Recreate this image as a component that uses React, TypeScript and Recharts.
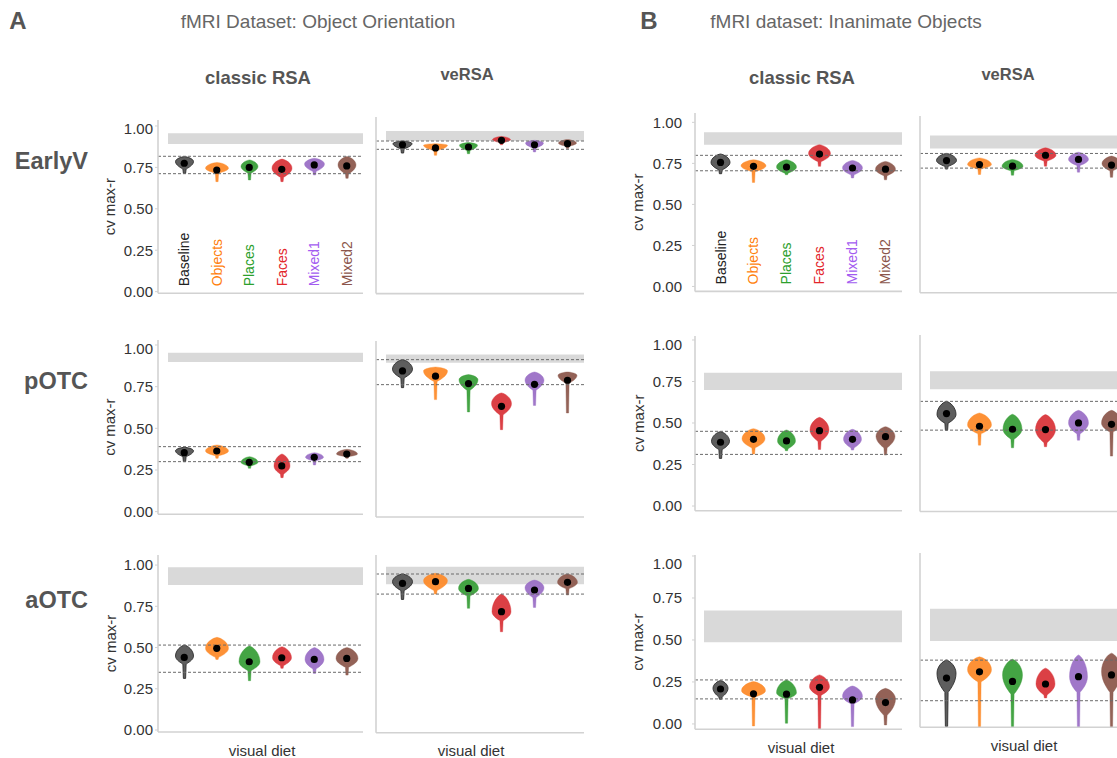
import React from 'react';
import { ComposedChart, Bar, Line, XAxis, YAxis, ReferenceArea, ReferenceLine } from 'recharts';

const diets = ['Baseline', 'Objects', 'Places', 'Faces', 'Mixed1', 'Mixed2'];
const dietFill = ['#555555', '#fd8b2b', '#3a9f3a', '#d9363b', '#9b70c6', '#8d5a4e'];
const dietLabelColor = ['#222222', '#ff7f0e', '#2ca02c', '#e3262b', '#a35cf0', '#8c564b'];
const yTicks = [0, 0.25, 0.5, 0.75, 1];

// violin tuples: [low, neck, mode, high, mean, relative width]
const A_EarlyV_classic = [
  [0.714, 0.74, 0.785, 0.815, 0.775, 0.72],
  [0.664, 0.715, 0.745, 0.78, 0.734, 0.92],
  [0.674, 0.715, 0.755, 0.795, 0.75, 0.68],
  [0.664, 0.69, 0.745, 0.8, 0.738, 0.8],
  [0.704, 0.725, 0.77, 0.805, 0.765, 0.8],
  [0.684, 0.71, 0.765, 0.815, 0.759, 0.72],
];
const A_EarlyV_veRSA = [
  [0.796, 0.82, 0.849, 0.864, 0.843, 0.76],
  [0.783, 0.81, 0.84, 0.849, 0.825, 0.96],
  [0.792, 0.81, 0.84, 0.855, 0.83, 0.72],
  [0.843, 0.855, 0.872, 0.89, 0.868, 0.72],
  [0.802, 0.825, 0.852, 0.868, 0.843, 0.72],
  [0.821, 0.835, 0.852, 0.872, 0.849, 0.72],
];
const A_pOTC_classic = [
  [0.3, 0.33, 0.365, 0.386, 0.354, 0.72],
  [0.32, 0.335, 0.364, 0.4, 0.364, 0.92],
  [0.26, 0.275, 0.296, 0.33, 0.296, 0.68],
  [0.204, 0.225, 0.274, 0.346, 0.274, 0.64],
  [0.28, 0.305, 0.326, 0.354, 0.326, 0.72],
  [0.32, 0.33, 0.346, 0.374, 0.346, 0.84],
];
const A_pOTC_veRSA = [
  [0.735, 0.79, 0.84, 0.894, 0.83, 0.8],
  [0.667, 0.77, 0.83, 0.852, 0.8, 0.96],
  [0.597, 0.72, 0.78, 0.809, 0.758, 0.76],
  [0.496, 0.58, 0.644, 0.705, 0.629, 0.8],
  [0.634, 0.72, 0.777, 0.824, 0.754, 0.76],
  [0.591, 0.76, 0.805, 0.824, 0.777, 0.76],
];
const A_aOTC_classic = [
  [0.313, 0.4, 0.448, 0.515, 0.44, 0.72],
  [0.428, 0.44, 0.495, 0.562, 0.495, 0.92],
  [0.299, 0.36, 0.414, 0.509, 0.414, 0.84],
  [0.374, 0.39, 0.438, 0.505, 0.438, 0.76],
  [0.343, 0.37, 0.428, 0.5, 0.428, 0.76],
  [0.333, 0.38, 0.434, 0.5, 0.434, 0.88],
];
const A_aOTC_veRSA = [
  [0.75, 0.8, 0.85, 0.893, 0.84, 0.8],
  [0.78, 0.8, 0.855, 0.897, 0.85, 0.96],
  [0.7, 0.77, 0.812, 0.863, 0.812, 0.8],
  [0.568, 0.63, 0.681, 0.78, 0.681, 0.76],
  [0.705, 0.76, 0.815, 0.859, 0.803, 0.76],
  [0.775, 0.81, 0.846, 0.893, 0.846, 0.8],
];
const B_EarlyV_classic = [
  [0.687, 0.71, 0.756, 0.807, 0.756, 0.76],
  [0.634, 0.7, 0.735, 0.772, 0.732, 1.0],
  [0.681, 0.69, 0.728, 0.772, 0.728, 0.8],
  [0.732, 0.76, 0.81, 0.864, 0.807, 0.88],
  [0.661, 0.68, 0.722, 0.768, 0.722, 0.8],
  [0.65, 0.675, 0.715, 0.762, 0.715, 0.8],
];
const B_EarlyV_veRSA = [
  [0.7, 0.715, 0.748, 0.788, 0.748, 0.8],
  [0.669, 0.7, 0.725, 0.763, 0.725, 0.96],
  [0.665, 0.69, 0.716, 0.754, 0.716, 0.84],
  [0.716, 0.745, 0.778, 0.82, 0.778, 0.84],
  [0.682, 0.72, 0.754, 0.795, 0.754, 0.8],
  [0.653, 0.69, 0.73, 0.773, 0.722, 0.76],
];
const B_pOTC_classic = [
  [0.287, 0.34, 0.39, 0.448, 0.384, 0.72],
  [0.313, 0.35, 0.405, 0.466, 0.402, 0.92],
  [0.333, 0.345, 0.392, 0.458, 0.392, 0.72],
  [0.341, 0.39, 0.458, 0.534, 0.454, 0.76],
  [0.337, 0.35, 0.402, 0.462, 0.402, 0.72],
  [0.307, 0.35, 0.42, 0.478, 0.418, 0.76],
];
const B_pOTC_veRSA = [
  [0.461, 0.5, 0.55, 0.624, 0.555, 0.76],
  [0.376, 0.44, 0.49, 0.558, 0.483, 0.96],
  [0.361, 0.41, 0.466, 0.551, 0.466, 0.76],
  [0.367, 0.39, 0.464, 0.549, 0.464, 0.8],
  [0.404, 0.44, 0.502, 0.573, 0.502, 0.8],
  [0.314, 0.45, 0.5, 0.573, 0.494, 0.8],
];
const B_aOTC_classic = [
  [0.147, 0.16, 0.212, 0.258, 0.208, 0.6],
  [-0.012, 0.16, 0.198, 0.252, 0.179, 0.96],
  [0.004, 0.15, 0.185, 0.262, 0.177, 0.8],
  [-0.03, 0.17, 0.222, 0.292, 0.218, 0.8],
  [-0.016, 0.12, 0.165, 0.226, 0.143, 0.8],
  [-0.006, 0.05, 0.148, 0.212, 0.127, 0.8],
];
const B_aOTC_veRSA = [
  [0.004, 0.2, 0.309, 0.385, 0.282, 0.76],
  [0.0, 0.26, 0.33, 0.404, 0.318, 0.96],
  [0.0, 0.19, 0.3, 0.39, 0.263, 0.8],
  [0.168, 0.185, 0.248, 0.339, 0.248, 0.76],
  [0.0, 0.2, 0.29, 0.415, 0.29, 0.72],
  [0.0, 0.2, 0.32, 0.425, 0.3, 0.8],
];

// noise ceiling [low, high] per row (EarlyV, pOTC, aOTC)
const A_ceiling_classic = [[0.891, 0.956], [0.898, 0.954], [0.879, 0.986]];
const A_ceiling_veRSA = [[0.864, 0.921], [0.877, 0.924], [0.835, 0.934]];
const B_ceiling_classic = [[0.864, 0.939], [0.699, 0.803], [0.486, 0.675]];
const B_ceiling_veRSA = [[0.816, 0.89], [0.692, 0.795], [0.495, 0.68]];
// dashed reference bounds per row
const A_bounds_classic = [[0.712, 0.817], [0.3, 0.39], [0.35, 0.515]];
const A_bounds_veRSA = [[0.817, 0.864], [0.752, 0.894], [0.78, 0.893]];
const B_bounds_classic = [[0.705, 0.799], [0.311, 0.45], [0.149, 0.262]];
const B_bounds_veRSA = [[0.705, 0.788], [0.461, 0.624], [0.152, 0.385]];

const FONT = "'Liberation Sans', Arial, Helvetica, sans-serif";
const AXIS = '#d2d2d2';
const MAXW = 25;
const YW = 70;
const XH = 30;

function violinPath(cx: number, yHi: number, yMode: number, yNeck: number, yLo: number, hw: number, tw: number) {
  const up = yMode - yHi;
  const dn = yNeck - yMode;
  const f = (n: number) => n.toFixed(2);
  return [
    `M ${f(cx)} ${f(yHi)}`,
    `C ${f(cx + hw * 0.35)} ${f(yHi + up * 0.05)} ${f(cx + hw)} ${f(yMode - up * 0.55)} ${f(cx + hw)} ${f(yMode)}`,
    `C ${f(cx + hw)} ${f(yMode + dn * 0.5)} ${f(cx + tw + (hw - tw) * 0.15)} ${f(yNeck - dn * 0.1)} ${f(cx + tw)} ${f(yNeck)}`,
    `L ${f(cx + tw * 0.7)} ${f(yLo)}`,
    `L ${f(cx - tw * 0.7)} ${f(yLo)}`,
    `L ${f(cx - tw)} ${f(yNeck)}`,
    `C ${f(cx - tw - (hw - tw) * 0.15)} ${f(yNeck - dn * 0.1)} ${f(cx - hw)} ${f(yMode + dn * 0.5)} ${f(cx - hw)} ${f(yMode)}`,
    `C ${f(cx - hw)} ${f(yMode - up * 0.55)} ${f(cx - hw * 0.35)} ${f(yHi + up * 0.05)} ${f(cx)} ${f(yHi)}`,
    'Z',
  ].join(' ');
}

const ViolinShape = (props: any) => {
  const { x, y, width, height, payload } = props;
  if (x == null || y == null || !payload) return <g />;
  const top = Math.min(y, y + height);
  const bot = Math.max(y, y + height);
  const { lo, hi, neck, mode, rw, idx } = payload;
  const v2p = (v: number) => bot - ((v - lo) / (hi - lo)) * (bot - top);
  const cx = x + width / 2;
  const hw = (rw * MAXW) / 2;
  const d = violinPath(cx, top, v2p(mode), v2p(neck), bot, hw, 1.6);
  const fill = dietFill[idx];
  return (
    <path
      d={d}
      fill={fill}
      fillOpacity={0.95}
      stroke={idx === 0 ? '#2e2e2e' : fill}
      strokeWidth={idx === 0 ? 0.9 : 0.4}
    />
  );
};

const CatTick = (props: any) => {
  const { x, y, payload } = props;
  const i = diets.indexOf(payload.value);
  const yy = y - 7;
  return (
    <text
      x={x}
      y={yy}
      transform={`rotate(-90 ${x} ${yy})`}
      textAnchor="start"
      dominantBaseline="central"
      fontSize={14}
      fontFamily={FONT}
      fill={dietLabelColor[i]}
    >
      {payload.value}
    </text>
  );
};

type SubProps = {
  L: number; W: number; pad: number; top: number; bottom: number; domain: [number, number];
  violins: number[][]; ceiling: number[]; bounds: number[];
  yLabels?: boolean; yLabelDx?: number; tickMargin?: number; cats?: boolean; xLabelX?: number;
};

function Subplot(p: SubProps) {
  const plotH = p.bottom - p.top;
  const H = plotH + XH;
  const width = YW + p.W;
  const data = p.violins.map((v, i) => ({
    diet: diets[i], idx: i, range: [v[0], v[3]], lo: v[0], neck: v[1], mode: v[2], hi: v[3], mean: v[4], rw: v[5],
  }));
  const yLabel = p.yLabels
    ? () => (
        <text
          x={YW - (p.yLabelDx || 48)}
          y={plotH / 2}
          transform={`rotate(-90 ${YW - (p.yLabelDx || 48)} ${plotH / 2})`}
          textAnchor="middle"
          dominantBaseline="central"
          fontSize={15}
          fontFamily={FONT}
          fill="#333"
        >
          cv max-r
        </text>
      )
    : undefined;
  const xLabel = p.xLabelX !== undefined
    ? () => (
        <text
          x={p.xLabelX! - (p.L - YW)}
          y={plotH + 18}
          textAnchor="middle"
          dominantBaseline="central"
          fontSize={15}
          fontFamily={FONT}
          fill="#333"
        >
          visual diet
        </text>
      )
    : undefined;
  return (
    <div style={{ position: 'absolute', left: p.L - YW, top: p.top, width, height: H }}>
      <ComposedChart width={width} height={H} data={data} margin={{ top: 0, right: 0, bottom: 0, left: 0 }}>
        <XAxis
          dataKey="diet"
          type="category"
          height={XH}
          padding={{ left: p.pad, right: 0 }}
          axisLine={{ stroke: AXIS, strokeWidth: 1.6 }}
          tickLine={false}
          tickSize={0}
          tickMargin={0}
          interval={0}
          tick={p.cats ? CatTick : false}
          label={xLabel}
        />
        <YAxis
          type="number"
          domain={p.domain}
          allowDataOverflow
          ticks={yTicks}
          width={YW}
          axisLine={{ stroke: AXIS, strokeWidth: 1.6 }}
          tickLine={{ stroke: AXIS }}
          tickSize={3}
          tickMargin={p.tickMargin ?? 2}
          tick={p.yLabels ? { fontSize: 15, fill: '#333', fontFamily: FONT } : false}
          tickFormatter={(v: number) => v.toFixed(2)}
          label={yLabel}
        />
        <ReferenceArea y1={p.ceiling[0]} y2={p.ceiling[1]} fill="#d9d9d9" fillOpacity={1} stroke="none" />
        <ReferenceLine y={p.bounds[0]} stroke="#6a6a6a" strokeDasharray="3 2" strokeWidth={1} />
        <ReferenceLine y={p.bounds[1]} stroke="#6a6a6a" strokeDasharray="3 2" strokeWidth={1} />
        <Bar dataKey="range" barSize={MAXW} shape={ViolinShape} isAnimationActive={false} />
        <Line
          dataKey="mean"
          stroke="none"
          dot={{ r: 3.6, fill: '#000', stroke: 'none' }}
          activeDot={false}
          isAnimationActive={false}
        />
      </ComposedChart>
    </div>
  );
}

const T = (props: { x: number; y: number; text: string; size: number; bold?: boolean; color: string; anchor?: 'middle' | 'end' }) => {
  const tx = props.anchor === 'end' ? '-100%' : '-50%';
  return (
    <div
      style={{
        position: 'absolute', left: props.x, top: props.y, transform: `translate(${tx}, -50%)`,
        fontSize: props.size, fontWeight: props.bold ? 700 : 400, color: props.color, whiteSpace: 'nowrap',
        lineHeight: 1, fontFamily: FONT,
      }}
    >
      {props.text}
    </div>
  );
};

export default function App() {
  const Ac = { L: 158, W: 205, pad: 10 };
  const Av = { L: 376, W: 208, pad: 10 };
  const Bc = { L: 695, W: 207, pad: 9 };
  const Bv = { L: 920, W: 208, pad: 10 };
  return (
    <div style={{ position: 'absolute', left: 0, top: 0, width: 1117, height: 758, overflow: 'hidden', background: '#fff', fontFamily: FONT }}>
      <T x={18} y={21} text="A" size={24} bold color="#555" />
      <T x={649} y={21} text="B" size={24} bold color="#555" />
      <T x={318} y={21} text="fMRI Dataset: Object Orientation" size={19} color="#666" />
      <T x={846} y={21} text="fMRI dataset: Inanimate Objects" size={19} color="#666" />
      <T x={258} y={78} text="classic RSA" size={18.5} bold color="#555" />
      <T x={467} y={74} text="veRSA" size={16.5} bold color="#555" />
      <T x={802} y={78} text="classic RSA" size={18.5} bold color="#555" />
      <T x={1008} y={74} text="veRSA" size={16.5} bold color="#555" />
      <T x={88} y={162} text="EarlyV" size={23.5} bold color="#555" anchor="end" />
      <T x={88} y={382} text="pOTC" size={23.5} bold color="#555" anchor="end" />
      <T x={88} y={601} text="aOTC" size={23.5} bold color="#555" anchor="end" />

      <Subplot {...Ac} top={120} bottom={293.3} domain={[-0.01, 1.036]} violins={A_EarlyV_classic} ceiling={A_ceiling_classic[0]} bounds={A_bounds_classic[0]} yLabels yLabelDx={48} tickMargin={2} cats />
      <Subplot {...Av} top={116.7} bottom={293.3} domain={[0, 1]} violins={A_EarlyV_veRSA} ceiling={A_ceiling_veRSA[0]} bounds={A_bounds_veRSA[0]} />
      <Subplot {...Ac} top={340} bottom={514.3} domain={[-0.016, 1.03]} violins={A_pOTC_classic} ceiling={A_ceiling_classic[1]} bounds={A_bounds_classic[1]} yLabels yLabelDx={48} tickMargin={2} />
      <Subplot {...Av} top={340.7} bottom={516.7} domain={[0, 1]} violins={A_pOTC_veRSA} ceiling={A_ceiling_veRSA[1]} bounds={A_bounds_veRSA[1]} />
      <Subplot {...Ac} top={555} bottom={732} domain={[-0.012, 1.061]} violins={A_aOTC_classic} ceiling={A_ceiling_classic[2]} bounds={A_bounds_classic[2]} yLabels yLabelDx={48} tickMargin={2} xLabelX={262} />
      <Subplot {...Av} top={555} bottom={732.7} domain={[0, 1]} violins={A_aOTC_veRSA} ceiling={A_ceiling_veRSA[2]} bounds={A_bounds_veRSA[2]} xLabelX={471} />

      <Subplot {...Bc} top={113.3} bottom={291.7} domain={[-0.03, 1.057]} violins={B_EarlyV_classic} ceiling={B_ceiling_classic[0]} bounds={B_bounds_classic[0]} yLabels yLabelDx={57} tickMargin={10} cats />
      <Subplot {...Bv} top={116} bottom={292.7} domain={[0, 1]} violins={B_EarlyV_veRSA} ceiling={B_ceiling_veRSA[0]} bounds={B_bounds_veRSA[0]} />
      <Subplot {...Bc} top={336} bottom={510.7} domain={[-0.028, 1.024]} violins={B_pOTC_classic} ceiling={B_ceiling_classic[1]} bounds={B_bounds_classic[1]} yLabels yLabelDx={57} tickMargin={10} />
      <Subplot {...Bv} top={335} bottom={511.5} domain={[0, 1]} violins={B_pOTC_veRSA} ceiling={B_ceiling_veRSA[1]} bounds={B_bounds_veRSA[1]} />
      <Subplot {...Bc} top={555} bottom={729.3} domain={[-0.032, 1.006]} violins={B_aOTC_classic} ceiling={B_ceiling_classic[2]} bounds={B_bounds_classic[2]} yLabels yLabelDx={57} tickMargin={10} xLabelX={801} />
      <Subplot {...Bv} top={552.5} bottom={726.7} domain={[0, 1]} violins={B_aOTC_veRSA} ceiling={B_ceiling_veRSA[2]} bounds={B_bounds_veRSA[2]} xLabelX={1024} />
    </div>
  );
}
